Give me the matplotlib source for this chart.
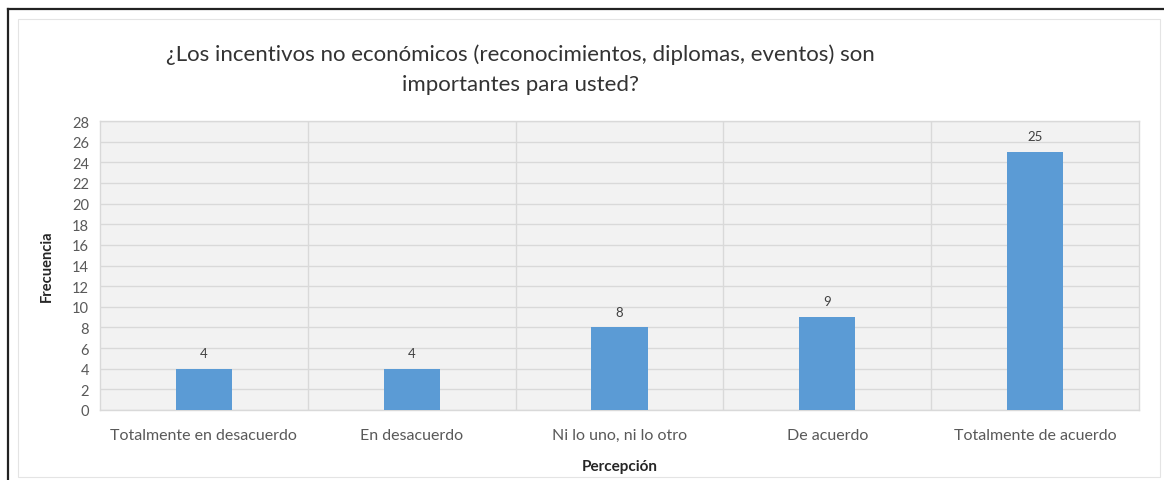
import matplotlib
matplotlib.use("Agg")
import matplotlib.pyplot as plt
from matplotlib.lines import Line2D
from matplotlib.patches import Rectangle

categories = ["Totalmente en desacuerdo", "En desacuerdo", "Ni lo uno, ni lo otro",
              "De acuerdo", "Totalmente de acuerdo"]
frecuencia = [4, 4, 8, 9, 25]
y_ticks = list(range(0, 29, 2))

title = ("¿Los incentivos no económicos (reconocimientos, diplomas, eventos) son\n"
         "importantes para usted?")

plt.rcParams["font.family"] = ["Lato", "DejaVu Sans"]

W, H = 1164, 481
fig = plt.figure(figsize=(W / 100, H / 100), dpi=100)
fig.patch.set_facecolor("white")

# outer frame (dark top/left edges) and faint chart-area border
fig.add_artist(Line2D([8 / W, 1.0], [1 - 10 / H, 1 - 10 / H], color="#222222", lw=1.6,
                      transform=fig.transFigure))
fig.add_artist(Line2D([8 / W, 8 / W], [0, 1 - 10 / H], color="#222222", lw=1.6,
                      transform=fig.transFigure))
fig.add_artist(Rectangle((18 / W, 3 / H), (1160 - 18) / W, (461 - 3) / H, fill=False,
                         edgecolor="#e4e4e4", lw=0.8, transform=fig.transFigure))

left, right, top, bottom = 100, 1139, 122, 411
ax = fig.add_axes([left / W, 1 - bottom / H, (right - left) / W, (bottom - top) / H])
ax.set_facecolor("#f2f2f2")

x = list(range(len(categories)))
bars = ax.bar(x, frecuencia, width=0.27, color="#5b9bd5", zorder=3)
for xi, v in zip(x, frecuencia):
    ax.annotate(str(v), (xi, v), xytext=(0, 7), textcoords="offset points",
                ha="center", va="bottom", fontsize=9.5, color="#404040")

ax.set_xlim(-0.5, len(categories) - 0.5)
ax.set_ylim(0, 28)
ax.set_yticks(y_ticks)
ax.set_xticks(x)
ax.set_xticklabels(categories)
ax.tick_params(axis="both", length=0, labelcolor="#595959")
ax.tick_params(axis="x", pad=13, labelsize=11.5)
ax.tick_params(axis="y", pad=8, labelsize=10.5)

ax.grid(axis="y", color="#d9d9d9", lw=1.0, zorder=0)
for b in [i + 0.5 for i in x[:-1]]:
    ax.axvline(b, color="#d9d9d9", lw=1.0, zorder=1)
for s in ax.spines.values():
    s.set_color("#d9d9d9")
    s.set_linewidth(1.0)

ax.set_ylabel("Frecuencia", fontsize=10.5, fontweight="bold", color="#262626", labelpad=13)
ax.set_xlabel("Percepción", fontsize=11, fontweight="bold", color="#262626", labelpad=12)

fig.text(520 / W, 1 - 70 / H, title, ha="center", va="center", fontsize=16,
         color="#333333", linespacing=1.6)

fig.savefig("out.png", dpi=100)
